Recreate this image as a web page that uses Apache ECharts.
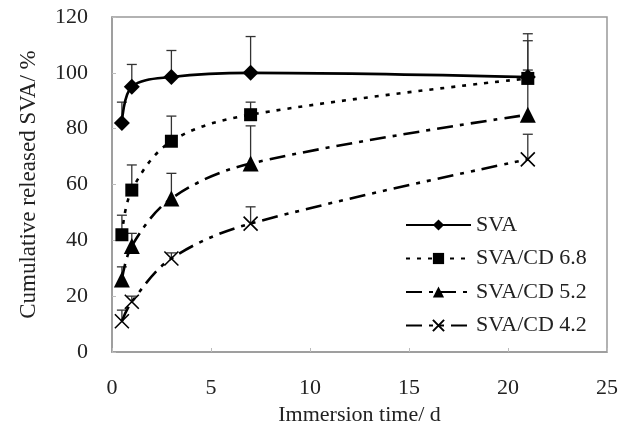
<!DOCTYPE html>
<html>
<head>
<meta charset="utf-8">
<script src="https://cdn.jsdelivr.net/npm/echarts@6/dist/echarts.min.js"></script>
<style>
  html, body { margin: 0; padding: 0; background: #fff; }
  #main { width: 629px; height: 427px; }
</style>
</head>
<body>
<div id="main"></div>
<script>
// 浸泡时间 (d)
const days = [0.5, 1, 3, 7, 21]

// 各组累计释放量 (%)
const sva = [82, 95, 98.5, 100, 98.5]
const cd68 = [42, 58, 75.5, 85, 98]
const cd52 = [26, 38, 55, 67.5, 85]
const cd42 = [11, 18, 33.5, 46, 69]

// 误差棒上端
const svaTop = [89.5, 103, 108, 113, 114]
const cd68Top = [49, 67, 84.5, 89.5, 111.5]
const cd52Top = [30.5, 42.5, 64, 81, 101]
const cd42Top = [15, 20, 35.5, 52, 78]

const seriesNames = ['SVA', 'SVA/CD 6.8', 'SVA/CD 5.2', 'SVA/CD 4.2']

const font = 'Liberation Serif'

// 拼成 [x, y] 点
function pairs(vals) {
    return days.map((d, i) => [d, vals[i]])
}

function errPairs(vals, tops) {
    return days.map((d, i) => [d, vals[i], tops[i]])
}

// 误差棒 (只画上半)
function errSeries(vals, tops) {
    return {
        type: 'custom',
        silent: true,
        z: 1,
        data: errPairs(vals, tops),
        encode: { x: 0, y: [1, 2] },
        renderItem(params, api) {
            let p0 = api.coord([api.value(0), api.value(1)])
            let p1 = api.coord([api.value(0), api.value(2)])
            let w = 5
            let st = { stroke: '#333', lineWidth: 1.3 }
            return {
                type: 'group',
                children: [
                    { type: 'line', shape: { x1: p0[0], y1: p0[1], x2: p1[0], y2: p1[1] }, style: st },
                    { type: 'line', shape: { x1: p1[0] - w, y1: p1[1], x2: p1[0] + w, y2: p1[1] }, style: st }
                ]
            }
        }
    }
}

function lineSeries(name, vals, symbol, size, dash, extraItem) {
    return {
        name: name,
        type: 'line',
        z: 3,
        smooth: 0.35,
        data: pairs(vals),
        symbol: symbol,
        symbolSize: size,
        lineStyle: { color: '#000', width: 2.6, type: dash },
        itemStyle: Object.assign({ color: '#000' }, extraItem || {})
    }
}

const crossPath = 'path://M0,0L10,10M10,0L0,10'

let chart = echarts.init(document.getElementById('main'))

let option = {
    animation: false,
    backgroundColor: '#fff',
    grid: {
        left: 112, right: 22, top: 17, bottom: 75,
        outerBoundsMode: 'none',
        show: true, borderColor: '#999', borderWidth: 1.5
    },
    legend: {
        orient: 'vertical',
        left: 400,
        top: 209,
        itemWidth: 65,
        itemHeight: 14,
        itemGap: 11.5,
        textStyle: { fontFamily: font, fontSize: 22, color: '#222' },
        data: seriesNames
    },
    xAxis: {
        type: 'value',
        min: 0, max: 25, interval: 5,
        name: 'Immersion time/ d',
        nameLocation: 'middle',
        nameGap: 52,
        nameTextStyle: { fontFamily: font, fontSize: 22, color: '#222' },
        axisLine: { show: true, lineStyle: { color: '#999', width: 1.5 } },
        axisTick: { show: true, inside: true, length: 4, lineStyle: { color: '#bbb' } },
        axisLabel: { fontFamily: font, fontSize: 22, color: '#222', margin: 25 },
        splitLine: { show: false }
    },
    yAxis: {
        type: 'value',
        min: 0, max: 120, interval: 20,
        name: 'Cumulative released SVA/ %',
        nameLocation: 'middle',
        nameGap: 72,
        nameTextStyle: { fontFamily: font, fontSize: 23, color: '#222' },
        axisLine: { show: true, lineStyle: { color: '#999', width: 1.5 } },
        axisTick: { show: true, inside: true, length: 4, lineStyle: { color: '#bbb' } },
        axisLabel: { fontFamily: font, fontSize: 22, color: '#222', margin: 24 },
        splitLine: { show: false }
    },
    series: [
        errSeries(sva, svaTop),
        errSeries(cd68, cd68Top),
        errSeries(cd52, cd52Top),
        errSeries(cd42, cd42Top),
        lineSeries(seriesNames[0], sva, 'diamond', 16, 'solid'),
        lineSeries(seriesNames[1], cd68, 'rect', 13, [4, 7]),
        lineSeries(seriesNames[2], cd52, 'triangle', 16, [16, 7, 4, 7]),
        lineSeries(seriesNames[3], cd42, crossPath, 14, [16, 7, 4, 7, 4, 7],
            { color: 'rgba(0,0,0,0)', borderColor: '#000', borderWidth: 1.6 })
    ]
}

chart.setOption(option)
</script>
</body>
</html>
